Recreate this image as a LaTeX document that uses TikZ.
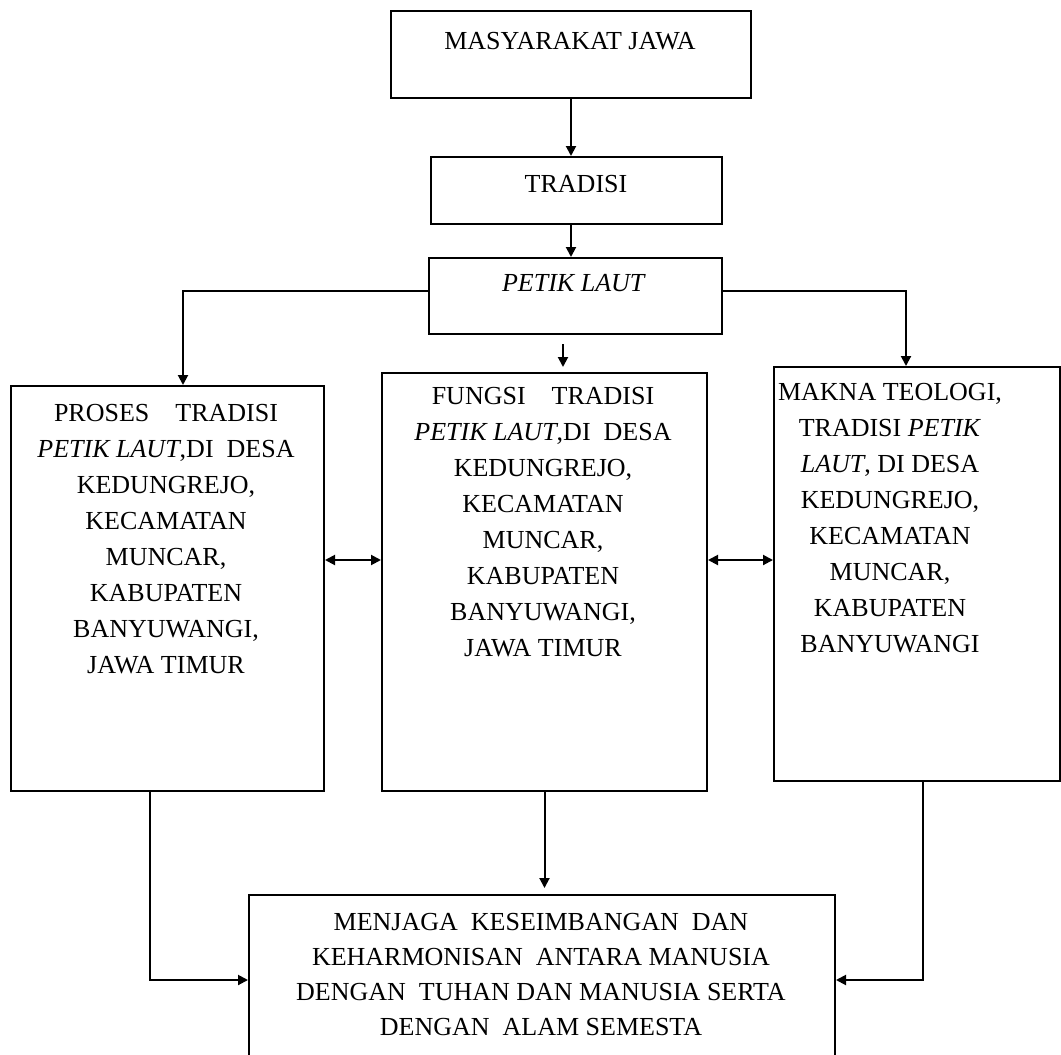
\documentclass[tikz,border=0pt]{standalone}
\usepackage{fontspec}
\setmainfont{Liberation Serif}
\usetikzlibrary{arrows.meta,positioning}

\begin{document}
\begin{tikzpicture}[x=0.5pt,y=-0.5pt,>={Triangle[length=5pt,width=5pt]},
  box/.style={draw,line width=1pt,inner sep=0pt,anchor=north west},
  txt/.style={align=center,inner sep=0pt,anchor=north,
    font=\fontsize{13}{18}\selectfont},
  arr/.style={->,line width=1pt}]
  \useasboundingbox (0,0) rectangle (1061,1055);

  % top chain
  \node[box,minimum width=180pt,minimum height=43.5pt] (masyarakat) at (390,10) {};
  \node[txt] (masyarakat-t) at (570,32) {MASYARAKAT JAWA};
  \node[box,minimum width=145.5pt,minimum height=33.5pt] (tradisi) at (430,156) {};
  \node[txt] (tradisi-t) at (576,175) {TRADISI};
  \node[box,minimum width=146.5pt,minimum height=38pt] (petik) at (428,257) {};
  \node[txt] (petik-t) at (574,274) {\textit{PETIK LAUT}};

  % three columns
  \node[box,minimum width=156.5pt,minimum height=202.5pt] (proses) at (10,385) {};
  \node[txt] (proses-t) at (166,404)
    {PROSES\quad TRADISI\\\textit{PETIK LAUT},DI\ \ DESA\\KEDUNGREJO,\\KECAMATAN\\
     MUNCAR,\\KABUPATEN\\BANYUWANGI,\\JAWA TIMUR};
  \node[box,minimum width=162.5pt,minimum height=209pt] (fungsi) at (381,372) {};
  \node[txt] (fungsi-t) at (543,387)
    {FUNGSI\quad TRADISI\\\textit{PETIK LAUT},DI\ \ DESA\\KEDUNGREJO,\\KECAMATAN\\
     MUNCAR,\\KABUPATEN\\BANYUWANGI,\\JAWA TIMUR};
  \node[box,minimum width=143pt,minimum height=207pt] (makna) at (773,366) {};
  \node[txt] (makna-t) at (890,383)
    {MAKNA TEOLOGI,\\TRADISI \textit{PETIK}\\\textit{LAUT}, DI DESA\\KEDUNGREJO,\\
     KECAMATAN\\MUNCAR,\\KABUPATEN\\BANYUWANGI};

  % result
  \node[box,minimum width=293pt,minimum height=90.5pt] (menjaga) at (248,894) {};
  \node[txt,font=\fontsize{13}{17.5}\selectfont] (menjaga-t) at (541,913)
    {MENJAGA\ \ KESEIMBANGAN\ \ DAN\\KEHARMONISAN\ \ ANTARA MANUSIA\\
     DENGAN\ \ TUHAN DAN MANUSIA SERTA\\DENGAN\ \ ALAM SEMESTA};

  \coordinate (kiri) at (183,291);
  \coordinate (kanan) at (906,291);
  \coordinate (tengah) at (0,560);
  \coordinate (bawahkiri) at (150,980);
  \coordinate (bawahkanan) at (923,980);

  \draw[arr] (masyarakat.south) -- (masyarakat.south |- tradisi.north);
  \draw[arr] (masyarakat.south |- tradisi.south) -- (masyarakat.south |- petik.north);
  \draw[arr] (kiri -| petik.west) -- (kiri) -- (kiri |- proses.north);
  \draw[arr] (kanan -| petik.east) -- (kanan) -- (kanan |- makna.north);
  \draw[arr] ([xshift=-6.25pt,yshift=-4.5pt]petik.south) -- ++(0,23);
  \draw[<->,line width=1pt] (proses.east |- tengah) -- (fungsi.west |- tengah);
  \draw[<->,line width=1pt] (fungsi.east |- tengah) -- (makna.west |- tengah);
  \draw[arr] (bawahkiri |- proses.south) -- (bawahkiri) -- (bawahkiri -| menjaga.west);
  \draw[arr] (bawahkanan |- makna.south) -- (bawahkanan) -- (bawahkanan -| menjaga.east);
  \draw[arr,shorten >=3pt] (fungsi.south) -- (fungsi.south |- menjaga.north);
\end{tikzpicture}
\end{document}
